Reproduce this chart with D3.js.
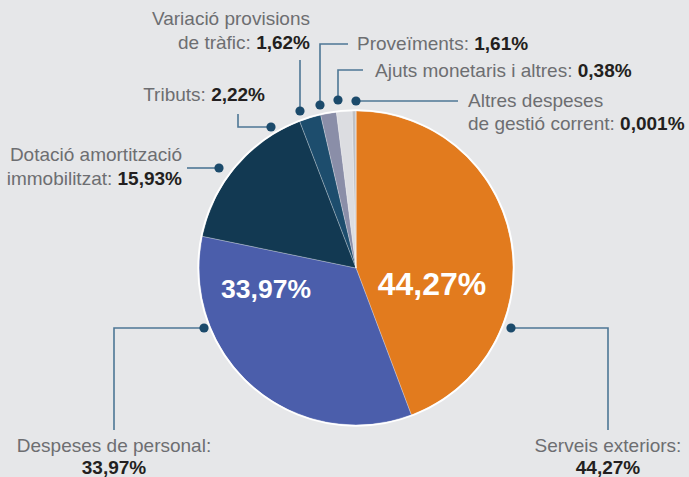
<!DOCTYPE html>
<html>
<head>
<meta charset="utf-8">
<script src="https://cdn.jsdelivr.net/npm/d3@7"></script>
<style>
  html, body { margin: 0; padding: 0; background: #e6e7e9; }
  svg { display: block; font-family: "Liberation Sans", Arial, sans-serif; }
</style>
</head>
<body>
<div id="chart"></div>
<script>
// data
const categories = [
    "Serveis exteriors",
    "Despeses de personal",
    "Dotació amortització immobilitzat",
    "Tributs",
    "Variació provisions de tràfic",
    "Proveïments",
    "Ajuts monetaris i altres",
    "Altres despeses de gestió corrent"
];
const shares = [44.27, 33.97, 15.93, 2.22, 1.62, 1.61, 0.38, 0.001];
const shareLabels = ["44,27%", "33,97%", "15,93%", "2,22%", "1,62%", "1,61%", "0,38%", "0,001%"];

// style
const colors = ["#e27b1e", "#4b5eab", "#123952", "#1d4d6d", "#8a8ea8", "#dcdde1", "#c0c1c5", "#f2f2f2"];

const width = 689, height = 477;
const cx = 356, cy = 268, radius = 157;

const svg = d3.select("#chart").append("svg")
    .attr("width", width)
    .attr("height", height);

svg.append("rect").attr("width", width).attr("height", height).attr("fill", "#e6e7e9");

// **pie**
const pieData = d3.pie().sort(null).value(d => d.value)(
    categories.map((c, i) => ({ name: c, value: shares[i], label: shareLabels[i] }))
);
const arc = d3.arc().innerRadius(0).outerRadius(radius);

const g = svg.append("g").attr("transform", `translate(${cx},${cy})`);

g.selectAll("path.slice")
    .data(pieData)
    .enter()
    .append("path")
    .attr("class", "slice")
    .attr("d", arc)
    .attr("fill", (d, i) => colors[i])
    .attr("stroke", "rgba(255,255,255,0.45)")
    .attr("stroke-width", 0.6);

g.append("circle")
    .attr("r", radius + 0.8)
    .attr("fill", "none")
    .attr("stroke", "#ffffff")
    .attr("stroke-width", 1.8);

// big percentages inside the two main slices
const inner = [
    { i: 0, x: 76, y: 27, size: 32 },
    { i: 1, x: -90, y: 30, size: 26.5 }
];
g.selectAll("text.inner")
    .data(inner)
    .enter()
    .append("text")
    .attr("class", "inner")
    .attr("x", d => d.x)
    .attr("y", d => d.y)
    .attr("text-anchor", "middle")
    .attr("font-size", d => d.size + "px")
    .attr("font-weight", "bold")
    .attr("fill", "#ffffff")
    .text(d => shareLabels[d.i]);

// **callouts** (leader line points, then label lines)
const callouts = [
    { i: 0, pts: [[511, 328], [608, 328], [608, 430]], anchor: "middle",
      lines: [{ x: 608, y: 452, name: "Serveis exteriors:", val: false }, { x: 608, y: 474, val: true }] },
    { i: 1, pts: [[204, 328], [114, 328], [114, 430]], anchor: "middle",
      lines: [{ x: 114, y: 452, name: "Despeses de personal:", val: false }, { x: 114, y: 474, val: true }] },
    { i: 2, pts: [[219, 168], [187, 168]], anchor: "end",
      lines: [{ x: 182, y: 161, name: "Dotació amortització", val: false }, { x: 182, y: 185, name: "immobilitzat: ", val: true }] },
    { i: 3, pts: [[271, 127], [238, 127], [238, 114]], anchor: "end",
      lines: [{ x: 265, y: 101, name: "Tributs: ", val: true }] },
    { i: 4, pts: [[300, 111], [300, 60]], anchor: "end",
      lines: [{ x: 310, y: 25, name: "Variació provisions", val: false }, { x: 310, y: 49, name: "de tràfic: ", val: true }] },
    { i: 5, pts: [[320, 105], [320, 44], [348, 44]], anchor: "start",
      lines: [{ x: 357, y: 50, name: "Proveïments: ", val: true }] },
    { i: 6, pts: [[338, 100], [338, 70], [363, 70]], anchor: "start",
      lines: [{ x: 375, y: 77, name: "Ajuts monetaris i altres: ", val: true }] },
    { i: 7, pts: [[356, 101], [458, 101]], anchor: "start",
      lines: [{ x: 468, y: 107, name: "Altres despeses", val: false }, { x: 468, y: 130, name: "de gestió corrent: ", val: true }] }
];

const line = d3.line();

svg.selectAll("path.leader")
    .data(callouts)
    .enter()
    .append("path")
    .attr("class", "leader")
    .attr("d", d => line(d.pts))
    .attr("fill", "none")
    .attr("stroke", "#4e7795")
    .attr("stroke-width", 1.6);

svg.selectAll("circle.dot")
    .data(callouts)
    .enter()
    .append("circle")
    .attr("class", "dot")
    .attr("cx", d => d.pts[0][0])
    .attr("cy", d => d.pts[0][1])
    .attr("r", 4.6)
    .attr("fill", "#1b4a6b");

callouts.forEach(c => {
    c.lines.forEach(l => {
        const t = svg.append("text")
            .attr("x", l.x)
            .attr("y", l.y)
            .attr("text-anchor", c.anchor)
            .attr("font-size", "19px");
        if (l.name) {
            t.append("tspan").attr("fill", "#6d6e71").text(l.name);
        }
        if (l.val) {
            t.append("tspan").attr("fill", "#231f20").attr("font-weight", "bold").text(shareLabels[c.i]);
        }
    });
});
</script>
</body>
</html>
